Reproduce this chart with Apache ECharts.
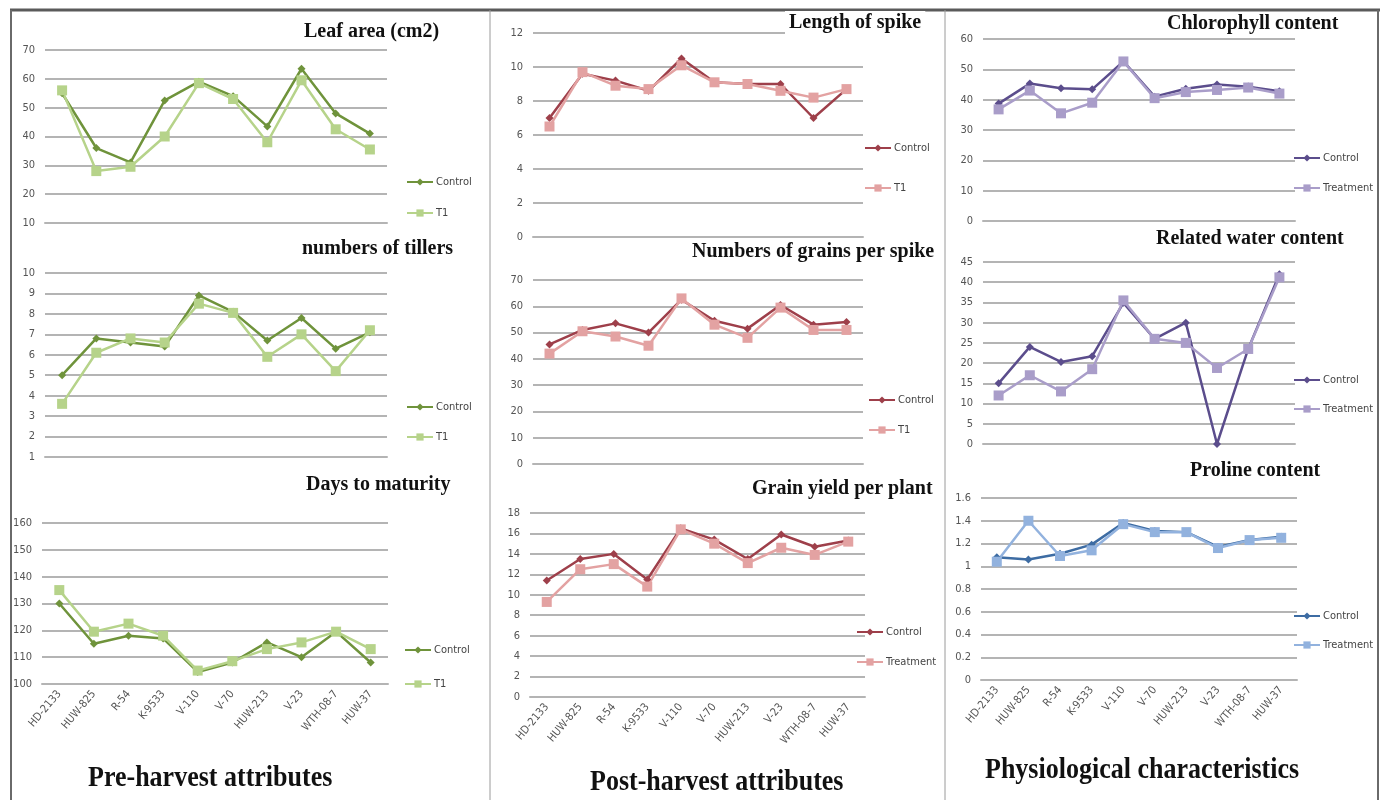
<!DOCTYPE html>
<html>
<head>
<meta charset="utf-8">
<title>Pre-harvest, post-harvest and physiological attributes</title>
<script src="https://cdn.jsdelivr.net/npm/echarts@6/dist/echarts.min.js"></script>
<style>
  html, body { margin: 0; padding: 0; background: #fff; }
  #main { width: 1385px; height: 800px; }
</style>
</head>
<body>
<div id="main"></div>
<script>
  // varieties (x categories, same for every panel)
  const varieties = ['HD-2133', 'HUW-825', 'R-54', 'K-9533', 'V-110', 'V-70', 'HUW-213', 'V-23', 'WTH-08-7', 'HUW-37']

  // pre-harvest
  const leafControl = [55, 36, 31, 52.5, 59, 54, 43.5, 63.5, 48, 41]
  const leafT1 = [56, 28, 29.5, 40, 58.5, 53, 38, 59.5, 42.5, 35.5]
  const tillerControl = [5, 6.8, 6.6, 6.4, 8.9, 8.1, 6.7, 7.8, 6.3, 7.1]
  const tillerT1 = [3.6, 6.1, 6.8, 6.6, 8.5, 8.05, 5.9, 7.0, 5.2, 7.2]
  const daysControl = [130, 115, 118, 117, 104.5, 108, 115.5, 110, 119.5, 108]
  const daysT1 = [135, 119.5, 122.5, 118, 105, 108.5, 113, 115.5, 119.5, 113]

  // post-harvest
  const spikeControl = [7.0, 9.6, 9.2, 8.6, 10.5, 9.1, 9.0, 9.0, 7.0, 8.7]
  const spikeT1 = [6.5, 9.7, 8.9, 8.7, 10.1, 9.1, 9.0, 8.6, 8.2, 8.7]
  const grainsControl = [45.5, 51, 53.5, 50, 62.5, 54.5, 51.5, 60.5, 53, 54]
  const grainsT1 = [42, 50.5, 48.5, 45, 63, 53, 48, 59.5, 51, 51]
  const yieldControl = [11.4, 13.5, 14.0, 11.5, 16.5, 15.4, 13.5, 15.9, 14.7, 15.3]
  const yieldTreatment = [9.3, 12.5, 13.0, 10.8, 16.4, 15.0, 13.1, 14.6, 13.9, 15.2]

  // physiological
  const chloroControl = [38.7, 45.3, 43.8, 43.4, 52.6, 41, 43.6, 45, 44.3, 42.8]
  const chloroTreatment = [36.8, 43, 35.5, 39, 52.6, 40.5, 42.5, 43.2, 44, 42]
  const waterControl = [15, 24, 20.3, 21.7, 34.9, 26, 30, 0, 23.5, 42]
  const waterTreatment = [12, 17, 13, 18.5, 35.5, 26, 25, 18.8, 23.5, 41.2]
  const prolineControl = [1.08, 1.06, 1.11, 1.19, 1.38, 1.31, 1.30, 1.17, 1.23, 1.26]
  const prolineTreatment = [1.04, 1.40, 1.09, 1.14, 1.37, 1.30, 1.30, 1.16, 1.23, 1.25]

  // colour pairs [control, treatment]
  const green = ['#6f933b', '#b6d38a']
  const red = ['#9e3f4a', '#e3a2a2']
  const purple = ['#5b4d8c', '#a99dc9']
  const blue = ['#3d6ca3', '#92b2de']

  const sans = "'Liberation Sans Narrow', 'DejaVu Sans Condensed', 'Liberation Sans', sans-serif"
  const serif = "'Liberation Serif', 'DejaVu Serif', serif"

  // layout: grid = [left, top, width, height], tpos = title [left, top], lg = legend [left, centerY of first item, spacing]
  const panels = [
    { title: 'Leaf area (cm2)', c: leafControl, t: leafT1, tn: 'T1', min: 10, max: 70, step: 10, grid: [45, 50, 342, 173], tpos: [300, 20], lg: [406, 182, 31], col: green, labels: false },
    { title: 'numbers of tillers', c: tillerControl, t: tillerT1, tn: 'T1', min: 1, max: 10, step: 1, grid: [45, 273, 342, 184], tpos: [298, 237], lg: [406, 407, 30], col: green, labels: false },
    { title: 'Days to maturity', c: daysControl, t: daysT1, tn: 'T1', min: 100, max: 160, step: 10, grid: [42, 523, 346, 161], tpos: [302, 473], lg: [404, 650, 34], col: green, labels: true },
    { title: 'Length of spike', c: spikeControl, t: spikeT1, tn: 'T1', min: 0, max: 12, step: 2, grid: [533, 33, 330, 204], tpos: [785, 11], lg: [864, 148, 40], col: red, labels: false },
    { title: 'Numbers of grains per spike', c: grainsControl, t: grainsT1, tn: 'T1', min: 0, max: 70, step: 10, grid: [533, 280, 330, 184], tpos: [688, 240], lg: [868, 400, 30], col: red, labels: false },
    { title: 'Grain yield per plant', c: yieldControl, t: yieldTreatment, tn: 'Treatment', min: 0, max: 18, step: 2, grid: [530, 513, 335, 184], tpos: [748, 477], lg: [856, 632, 30], col: red, labels: true },
    { title: 'Chlorophyll content', c: chloroControl, t: chloroTreatment, tn: 'Treatment', min: 0, max: 60, step: 10, grid: [983, 39, 312, 182], tpos: [1163, 12], lg: [1293, 158, 30], col: purple, labels: false },
    { title: 'Related water content', c: waterControl, t: waterTreatment, tn: 'Treatment', min: 0, max: 45, step: 5, grid: [983, 262, 312, 182], tpos: [1152, 227], lg: [1293, 380, 29], col: purple, labels: false },
    { title: 'Proline content', c: prolineControl, t: prolineTreatment, tn: 'Treatment', min: 0, max: 1.6, step: 0.2, grid: [981, 498, 316, 182], tpos: [1186, 459], lg: [1293, 616, 29], col: blue, labels: true }
  ]

  const grid = []
  const xAxis = []
  const yAxis = []
  const series = []
  const title = []
  const legend = []

  panels.forEach((p, i) => {
    grid.push({ left: p.grid[0], top: p.grid[1], width: p.grid[2], height: p.grid[3], containLabel: false })
    xAxis.push({
      type: 'category',
      gridIndex: i,
      data: varieties,
      boundaryGap: true,
      axisTick: { show: false },
      axisLine: { lineStyle: { color: '#b4b4b4', width: 2 } },
      axisLabel: {
        show: p.labels,
        rotate: 50,
        margin: 8,
        interval: 0,
        color: '#555',
        fontSize: 11,
        fontFamily: sans
      }
    })
    yAxis.push({
      type: 'value',
      gridIndex: i,
      min: p.min,
      max: p.max,
      interval: p.step,
      axisLine: { show: false },
      axisTick: { show: false },
      axisLabel: { color: '#555', fontSize: 11, fontFamily: sans, margin: 10 },
      splitLine: { lineStyle: { color: '#b4b4b4', width: 2 } }
    })
    const cName = 'Control#' + i
    const tName = p.tn + '#' + i
    series.push({
      name: cName,
      type: 'line',
      xAxisIndex: i,
      yAxisIndex: i,
      data: p.c,
      symbol: 'diamond',
      symbolSize: 8,
      color: p.col[0],
      lineStyle: { width: 2.5 },
      animation: false
    })
    series.push({
      name: tName,
      type: 'line',
      xAxisIndex: i,
      yAxisIndex: i,
      data: p.t,
      symbol: 'rect',
      symbolSize: 10,
      color: p.col[1],
      lineStyle: { width: 2.5 },
      animation: false
    })
    title.push({
      text: p.title,
      left: p.tpos[0],
      top: p.tpos[1],
      padding: [2, 4],
      backgroundColor: '#fff',
      textStyle: { fontFamily: serif, fontWeight: 'bold', fontSize: 20, color: '#111' }
    })
    legend.push({
      orient: 'vertical',
      left: p.lg[0],
      top: p.lg[1] - 7,
      padding: 0,
      itemWidth: 26,
      itemHeight: 9,
      itemGap: p.lg[2] - 14,
      data: [cName, tName],
      formatter: n => n.split('#')[0],
      textStyle: { color: '#444', fontSize: 11, fontFamily: sans, padding: [0, 0, 0, -2], lineHeight: 14 }
    })
  })

  const sectionFont = 'bold 26px ' + serif
  const graphic = [
    // frame and dividers
    { type: 'line', shape: { x1: 10, y1: 10, x2: 1380, y2: 10 }, style: { stroke: '#5a5a5a', lineWidth: 3 } },
    { type: 'line', shape: { x1: 11, y1: 10, x2: 11, y2: 800 }, style: { stroke: '#6a6a6a', lineWidth: 2 } },
    { type: 'line', shape: { x1: 1378, y1: 10, x2: 1378, y2: 800 }, style: { stroke: '#6a6a6a', lineWidth: 2 } },
    { type: 'line', shape: { x1: 490, y1: 10, x2: 490, y2: 800 }, style: { stroke: '#9a9a9a', lineWidth: 1 } },
    { type: 'line', shape: { x1: 945, y1: 10, x2: 945, y2: 800 }, style: { stroke: '#9a9a9a', lineWidth: 1 } },
    // section captions
    { type: 'text', left: 88, top: 764, scaleY: 1.12, style: { text: 'Pre-harvest attributes', font: sectionFont, fill: '#111' } },
    { type: 'text', left: 590, top: 768, scaleY: 1.12, style: { text: 'Post-harvest attributes', font: sectionFont, fill: '#111' } },
    { type: 'text', left: 985, top: 756, scaleY: 1.12, style: { text: 'Physiological characteristics', font: sectionFont, fill: '#111' } }
  ]

  const chart = echarts.init(document.getElementById('main'))
  chart.setOption({
    animation: false,
    backgroundColor: '#fff',
    title: title,
    legend: legend,
    grid: grid,
    xAxis: xAxis,
    yAxis: yAxis,
    series: series,
    graphic: graphic
  })
</script>
</body>
</html>
